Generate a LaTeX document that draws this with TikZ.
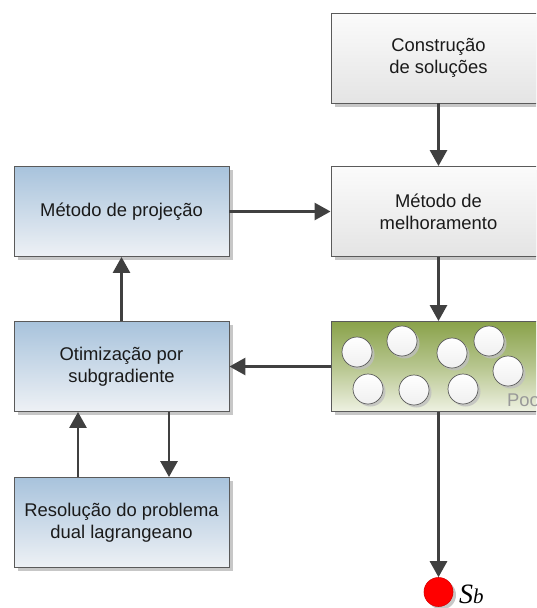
\documentclass[tikz,border=0pt]{standalone}
\usepackage{fontspec}
\setmainfont{Liberation Sans}
\newfontfamily\serifit{Liberation Serif}
\usetikzlibrary{arrows.meta,shadows}
\definecolor{bluetop}{HTML}{A8C3DC}
\definecolor{bluebot}{HTML}{EEF1F5}
\definecolor{graytop}{HTML}{FBFBFB}
\definecolor{graybot}{HTML}{E4E4E4}
\definecolor{greentop}{HTML}{8AA24A}
\definecolor{greenbot}{HTML}{EEF1E2}
\definecolor{edge}{HTML}{5A5A5A}
\definecolor{arrowc}{HTML}{404040}
\definecolor{txt}{HTML}{1A1A1A}
\tikzset{
  boxbase/.style={rectangle, draw=edge, line width=0.9pt, minimum width=215pt, minimum height=90pt,
    align=center, text=txt, font=\fontsize{18.4}{22}\selectfont,
    drop shadow={shadow xshift=3.5pt, shadow yshift=-3.5pt, fill=black!22, opacity=1}},
  bluebox/.style={boxbase, shading=axis, top color=bluetop, bottom color=bluebot},
  graybox/.style={boxbase, shading=axis, top color=graytop, bottom color=graybot},
  poolbox/.style={boxbase, shading=axis, top color=greentop, bottom color=greenbot, middle color=greentop!55!greenbot},
  ball/.style={circle, draw=edge, line width=0.7pt, minimum size=30pt, inner sep=0pt,
    shading=axis, top color=white, bottom color=black!6,
    drop shadow={shadow xshift=2.5pt, shadow yshift=-2.5pt, fill=black!25, opacity=0.8}},
  arr/.style={draw=arrowc, line width=2.8pt, -{Triangle[width=17pt,length=16pt]}},
}
\begin{document}
\begin{tikzpicture}[x=1pt,y=-1pt]
\useasboundingbox (0,0) rectangle (536,608);
\clip (0,0) rectangle (536,608);
% right column
\node[graybox] (constr) at (438.5,58) {Construção\\de soluções};
\node[graybox] (melh) at (438.5,211.5) {Método de\\melhoramento};
\node[poolbox] (pool) at (438.5,366.5) {};
% left column
\node[bluebox] (proj) at (121.5,211.5) {Método de projeção};
\node[bluebox] (otim) at (121.5,366.5) {Otimização por\\subgradiente};
\node[bluebox] (resol) at (121.5,522.5) {Resolução do problema\\dual lagrangeano};
% pool contents
\node[ball] (b1) at (357,352) {};
\node[ball] (b2) at (402,341) {};
\node[ball] (b3) at (452,353) {};
\node[ball] (b4) at (489,341) {};
\node[ball] (b5) at (508,371) {};
\node[ball] (b6) at (368,389) {};
\node[ball] (b7) at (414,390) {};
\node[ball] (b8) at (463,389) {};
\node[anchor=base west, inner sep=0pt, text=black!40, font=\fontsize{18.4}{22}\selectfont] (poollbl) at (507,406.5) {Pool};
% best solution
\node[circle, fill=red, draw=red!85!black, line width=0.6pt, minimum size=29pt, inner sep=0pt,
  drop shadow={shadow xshift=3pt, shadow yshift=-3pt, fill=black!22, opacity=1}] (sb) at (438.5,592) {};
\node[anchor=base west, inner sep=0pt, text=black] (sblbl) at (459,603)
  {\serifit\itshape\fontsize{28}{30}\selectfont S\fontsize{21}{24}\selectfont b};
% connectors
\draw[arr] (constr) -- (melh);
\draw[arr] (melh) -- (pool);
\draw[arr] (proj) -- (melh);
\draw[arr] (pool) -- (otim);
\draw[arr] (otim) -- (proj);
\draw[arr] ([xshift=-43.5pt]resol.north) -- ([xshift=-43.5pt]otim.south);
\draw[arr] ([xshift=47.5pt]otim.south) -- ([xshift=47.5pt]resol.north);
\draw[arr] (pool) -- (sb);
\end{tikzpicture}
\end{document}
